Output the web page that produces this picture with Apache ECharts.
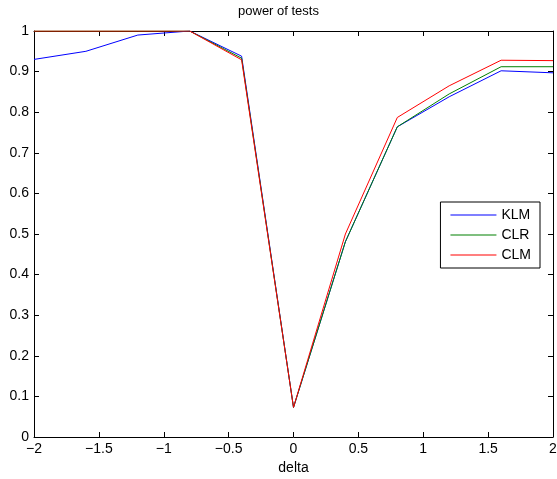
<!DOCTYPE html>
<html><head><meta charset="utf-8">
<script src="https://cdn.jsdelivr.net/npm/echarts@6/dist/echarts.min.js"></script>
<style>html,body{margin:0;padding:0;background:#fff}#c{width:557px;height:479px}</style>
</head><body><div id="c"></div>
<script>
const delta = [-2, -1.6, -1.2, -0.8, -0.4, 0, 0.4, 0.8, 1.2, 1.6, 2];
const KLM = [0.93, 0.95, 0.99, 1.0, 0.938, 0.073, 0.481, 0.764, 0.838, 0.902, 0.897];
const CLR = [1.0, 1.0, 1.0, 1.0, 0.933, 0.073, 0.481, 0.764, 0.845, 0.912, 0.912];
const CLM = [1.0, 1.0, 1.0, 1.0, 0.929, 0.073, 0.500, 0.787, 0.865, 0.928, 0.927];
const seriesNames = ['KLM', 'CLR', 'CLM'];
const seriesData = [KLM, CLR, CLM];
const colors = ['#0000ff', '#008000', '#ff0000'];
const FONT = 'Liberation Sans, Arial, sans-serif';
const chart = echarts.init(document.getElementById('c'), null, {renderer: 'canvas'});
const axisCommon = {
  axisLine: {show: true, onZero: false, lineStyle: {color: '#000', width: 1}},
  axisTick: {show: true, inside: true, length: 5, lineStyle: {color: '#000'}},
  splitLine: {show: false}
};
chart.setOption({
  animation: false,
  backgroundColor: '#fff',
  title: {text: 'power of tests', left: 'center', top: 0,
    textStyle: {fontFamily: FONT, fontSize: 13, fontWeight: 'normal', color: '#000'}},
  grid: {left: 34, right: 4, top: 31, bottom: 42, containLabel: false, outerBoundsMode: 'none'},
  legend: {
    orient: 'vertical', right: 17, top: 202,
    data: seriesNames,
    icon: 'rect',
    itemWidth: 46, itemHeight: 1, itemGap: 6,
    backgroundColor: '#fff', borderColor: '#000', borderWidth: 1,
    padding: [6, 9, 6, 10],
    textStyle: {fontFamily: FONT, fontSize: 14, color: '#000', padding: [0, 0, 0, 0]}
  },
  xAxis: [
    Object.assign({type: 'value', min: -2, max: 2, interval: 0.5, position: 'bottom',
      name: 'delta', nameLocation: 'middle', nameGap: 24,
      nameTextStyle: {fontFamily: FONT, fontSize: 14, color: '#000'},
      axisLabel: {fontFamily: FONT, fontSize: 14, color: '#000', margin: 5,
        formatter: v => String(v).replace('-', '\u2212')}}, axisCommon),
    Object.assign({type: 'value', min: -2, max: 2, interval: 0.5, position: 'top',
      axisLabel: {show: false}}, axisCommon)
  ],
  yAxis: [
    Object.assign({type: 'value', min: 0, max: 1, interval: 0.1, position: 'left',
      axisLabel: {fontFamily: FONT, fontSize: 14, color: '#000', margin: 5,
        formatter: v => String(Math.round(v * 10) / 10)}}, axisCommon),
    Object.assign({type: 'value', min: 0, max: 1, interval: 0.1, position: 'right',
      axisLabel: {show: false}}, axisCommon)
  ],
  series: seriesNames.map((n, i) => ({
    name: n, type: 'line', symbol: 'none', color: colors[i],
    lineStyle: {width: 1, color: colors[i]},
    data: delta.map((d, j) => [d, seriesData[i][j]]),
    z: 2 + i
  }))
});
</script></body></html>
